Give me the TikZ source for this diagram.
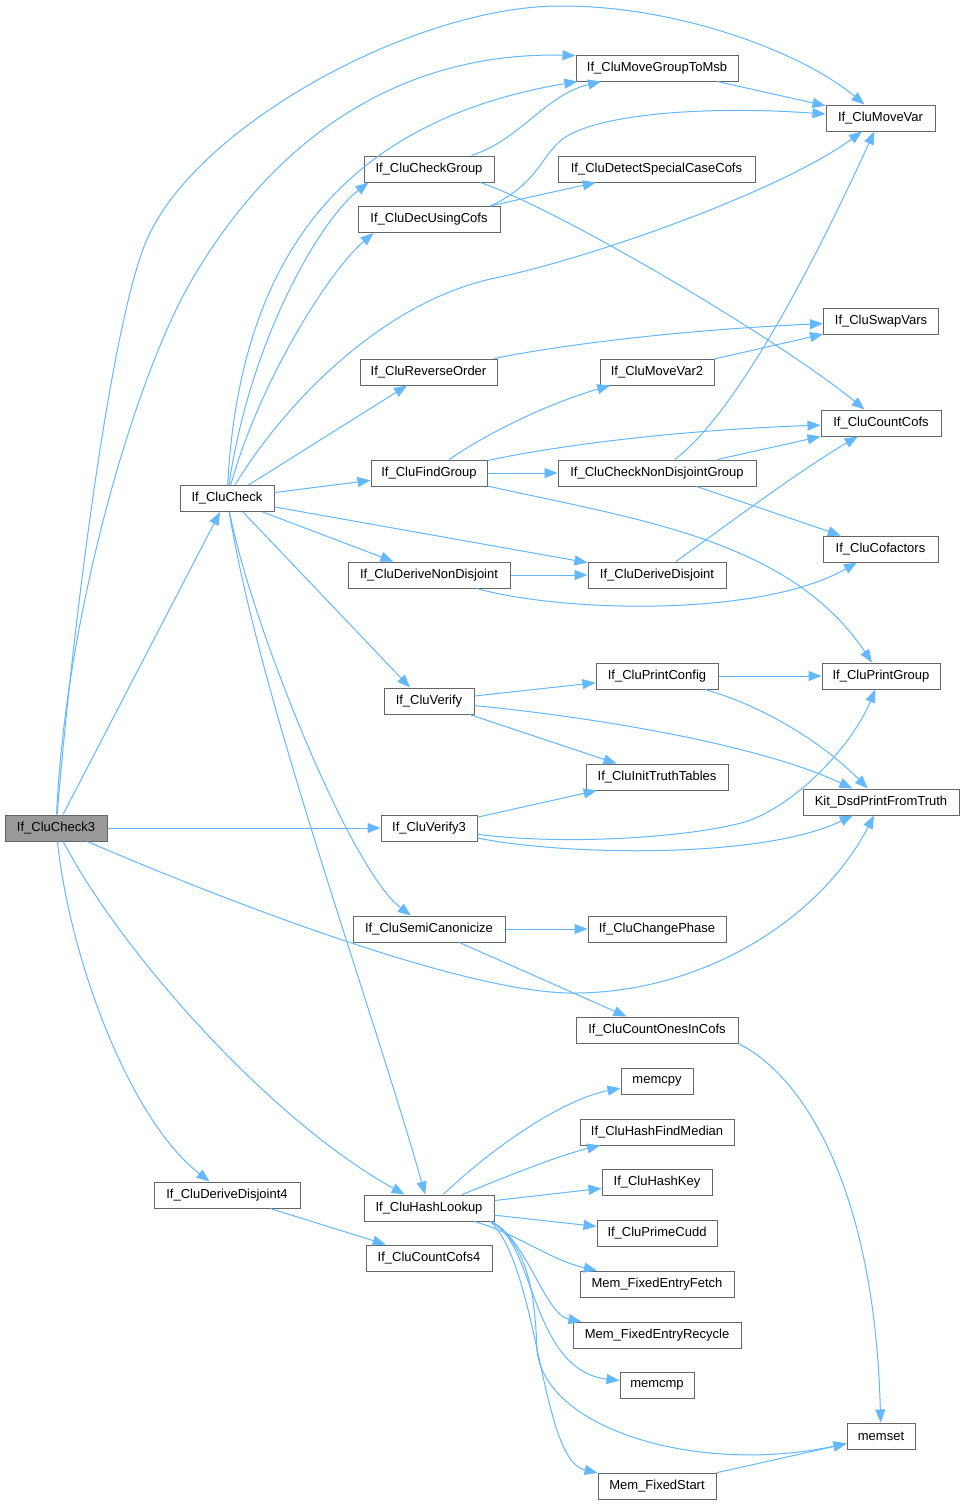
\documentclass[tikz,border=0pt]{standalone}
\usepackage{fontspec}
\setmainfont{Liberation Sans}
\usetikzlibrary{arrows.meta}
\definecolor{edgec}{HTML}{63B8FF}
\definecolor{boxc}{HTML}{666666}
\definecolor{rootc}{HTML}{999999}
\begin{document}
\begin{tikzpicture}[x=1pt,y=-1pt,
  fn/.style={draw=boxc, fill=white, line width=1pt, minimum height=26pt, inner sep=0pt,
    font=\fontsize{13}{15}\selectfont, text=black},
  e/.style={draw=edgec, line width=1pt, -{Triangle[length=13pt,width=10pt]}}]
\useasboundingbox (0,0) rectangle (964,1505);
\fill[white] (0,0) rectangle (964,1505);
% nodes
\node[fn, minimum width=102pt, fill=rootc] (c3) at (56,828) {If\_CluCheck3};
\node[fn, minimum width=94pt] (cc) at (227,498.5) {If\_CluCheck};
\node[fn, minimum width=162pt] (mg) at (657,68) {If\_CluMoveGroupToMsb};
\node[fn, minimum width=109pt] (mv) at (880.5,118) {If\_CluMoveVar};
\node[fn, minimum width=130pt] (cg) at (429,169) {If\_CluCheckGroup};
\node[fn, minimum width=197pt] (ds) at (656.5,169) {If\_CluDetectSpecialCaseCofs};
\node[fn, minimum width=142pt] (dc) at (429,219.5) {If\_CluDecUsingCofs};
\node[fn, minimum width=115pt] (sv) at (881,321) {If\_CluSwapVars};
\node[fn, minimum width=137pt] (ro) at (428.5,372) {If\_CluReverseOrder};
\node[fn, minimum width=114pt] (mv2) at (657,372) {If\_CluMoveVar2};
\node[fn, minimum width=120pt] (ccf) at (881,423) {If\_CluCountCofs};
\node[fn, minimum width=116pt] (fg) at (429,473) {If\_CluFindGroup};
\node[fn, minimum width=198pt] (cnd) at (657,473) {If\_CluCheckNonDisjointGroup};
\node[fn, minimum width=115pt] (cof) at (880.5,549) {If\_CluCofactors};
\node[fn, minimum width=162pt] (dnd) at (429,575) {If\_CluDeriveNonDisjoint};
\node[fn, minimum width=138pt] (dd) at (657,575) {If\_CluDeriveDisjoint};
\node[fn, minimum width=122pt] (pc) at (657,676) {If\_CluPrintConfig};
\node[fn, minimum width=118pt] (pg) at (881,676) {If\_CluPrintGroup};
\node[fn, minimum width=90pt] (vf) at (429,701) {If\_CluVerify};
\node[fn, minimum width=142pt] (itt) at (657,777) {If\_CluInitTruthTables};
\node[fn, minimum width=156pt] (kit) at (881,802) {Kit\_DsdPrintFromTruth};
\node[fn, minimum width=96pt] (v3) at (429,828) {If\_CluVerify3};
\node[fn, minimum width=152pt] (sc) at (429,929) {If\_CluSemiCanonicize};
\node[fn, minimum width=138pt] (cp) at (657,929) {If\_CluChangePhase};
\node[fn, minimum width=162pt] (coc) at (657,1030) {If\_CluCountOnesInCofs};
\node[fn, minimum width=72pt] (mcpy) at (657,1081) {memcpy};
\node[fn, minimum width=154pt] (hfm) at (657,1132) {If\_CluHashFindMedian};
\node[fn, minimum width=110pt] (hk) at (657,1182) {If\_CluHashKey};
\node[fn, minimum width=146pt] (dd4) at (227,1195) {If\_CluDeriveDisjoint4};
\node[fn, minimum width=130pt] (hl) at (429,1208) {If\_CluHashLookup};
\node[fn, minimum width=120pt] (pcd) at (657,1233) {If\_CluPrimeCudd};
\node[fn, minimum width=126pt] (cc4) at (429,1258) {If\_CluCountCofs4};
\node[fn, minimum width=154pt] (fef) at (657,1284) {Mem\_FixedEntryFetch};
\node[fn, minimum width=168pt] (fer) at (657,1335) {Mem\_FixedEntryRecycle};
\node[fn, minimum width=74pt] (mcmp) at (657,1385) {memcmp};
\node[fn, minimum width=68pt] (ms) at (881,1436) {memset};
\node[fn, minimum width=118pt] (fs) at (657,1486) {Mem\_FixedStart};
% edges from If_CluCheck3
\draw[e] (c3) .. controls (75,600) and (115,300) .. (150,233) .. controls (205,120) and (420,5) .. (562,6) .. controls (680,6) and (803,53) .. (mv);
\draw[e] (c3) .. controls (65,620) and (133,383) .. (190,283) .. controls (290,110) and (430,52) .. ([yshift=-1pt]mg.north west);
\draw[e] (c3) -- (cc);
\draw[e] (c3) -- (v3);
\draw[e] (c3) .. controls (200,890) and (450,990) .. (568,993) .. controls (700,995) and (820,920) .. (kit);
\draw[e] (c3) .. controls (70,960) and (130,1120) .. (dd4);
\draw[e] (c3) .. controls (122,953) and (270,1120) .. (hl);
% edges from If_CluCheck
\draw[e] (cc) .. controls (240,250) and (350,120) .. (mg);
\draw[e] (cc) .. controls (250,340) and (320,220) .. ([xshift=5pt]cg.south west);
\draw[e] (cc) .. controls (260,380) and (330,270) .. ([xshift=16pt]dc.south west);
\draw[e] (cc) .. controls (280,410) and (380,300) .. (500,277) .. controls (600,255) and (782,190) .. (mv);
\draw[e] (cc) -- (ro);
\draw[e] (cc) -- (fg);
\draw[e] (cc) -- (dnd);
\draw[e] (cc) -- (dd);
\draw[e] ([xshift=16pt]cc.south) -- ([xshift=-19pt]vf.north);
\draw[e] (cc) .. controls (250,620) and (350,870) .. (sc);
\draw[e] (cc) .. controls (260,700) and (370,1000) .. (hl);
% other edges
\draw[e] (cg) .. controls (520,140) and (545,95) .. (mg);
\draw[e] ([xshift=-14pt]cg.south east) .. controls (560,210) and (780,340) .. (ccf);
\draw[e] ([xshift=-10pt]dc.north east) .. controls (535,185) and (540,160) .. (558,143) .. controls (585,115) and (700,105) .. (mv);
\draw[e] (dc) -- (ds);
\draw[e] (mg) -- (mv);
\draw[e] (ro) .. controls (560,345) and (680,330) .. (sv);
\draw[e] (mv2) -- (sv);
\draw[e] (fg) .. controls (500,425) and (560,400) .. (mv2);
\draw[e] (fg) .. controls (560,445) and (680,430) .. (ccf);
\draw[e] (fg) -- (cnd);
\draw[e] (fg) .. controls (640,520) and (790,540) .. (pg);
\draw[e] (cnd) .. controls (740,410) and (820,250) .. (mv);
\draw[e] (cnd) -- (ccf);
\draw[e] (cnd) -- (cof);
\draw[e] (dnd) -- (dd);
\draw[e] (dnd) .. controls (560,612) and (760,618) .. (cof);
\draw[e] (dd) .. controls (720,530) and (800,470) .. (ccf);
\draw[e] (vf) -- (pc);
\draw[e] (vf) -- (itt);
\draw[e] (vf) .. controls (600,718) and (760,745) .. (kit);
\draw[e] (pc) -- (pg);
\draw[e] (pc) .. controls (760,705) and (820,740) .. (kit);
\draw[e] (v3) -- (itt);
\draw[e] (v3) .. controls (560,845) and (681,838.5) .. (741,823) .. controls (790,810) and (850,750) .. (pg);
\draw[e] (v3) .. controls (560,855) and (760,860) .. (kit);
\draw[e] (sc) -- (cp);
\draw[e] (sc) -- (coc);
\draw[e] (coc.south east) .. controls (810,1080) and (875,1200) .. (ms);
\draw[e] (hl) .. controls (490,1150) and (560,1100) .. (mcpy);
\draw[e] (hl) .. controls (510,1175) and (560,1155) .. (hfm);
\draw[e] (hl) -- (hk);
\draw[e] (hl) -- (pcd);
\draw[e] (hl) .. controls (520,1235) and (550,1260) .. (fef);
\draw[e] ([xshift=-4pt]hl.south east) .. controls (525,1235) and (545,1315) .. (fer);
\draw[e] ([xshift=-4pt]hl.south east) .. controls (535,1240) and (530,1370) .. (mcmp);
\draw[e] ([xshift=-4pt]hl.south east) .. controls (530,1245) and (535,1300) .. (537,1350) .. controls (545,1430) and (700,1475) .. (ms);
\draw[e] ([xshift=-4pt]hl.south east) .. controls (540,1270) and (540,1460) .. (fs);
\draw[e] (fs) -- (ms);
\draw[e] (dd4) -- (cc4);
\end{tikzpicture}
\end{document}
